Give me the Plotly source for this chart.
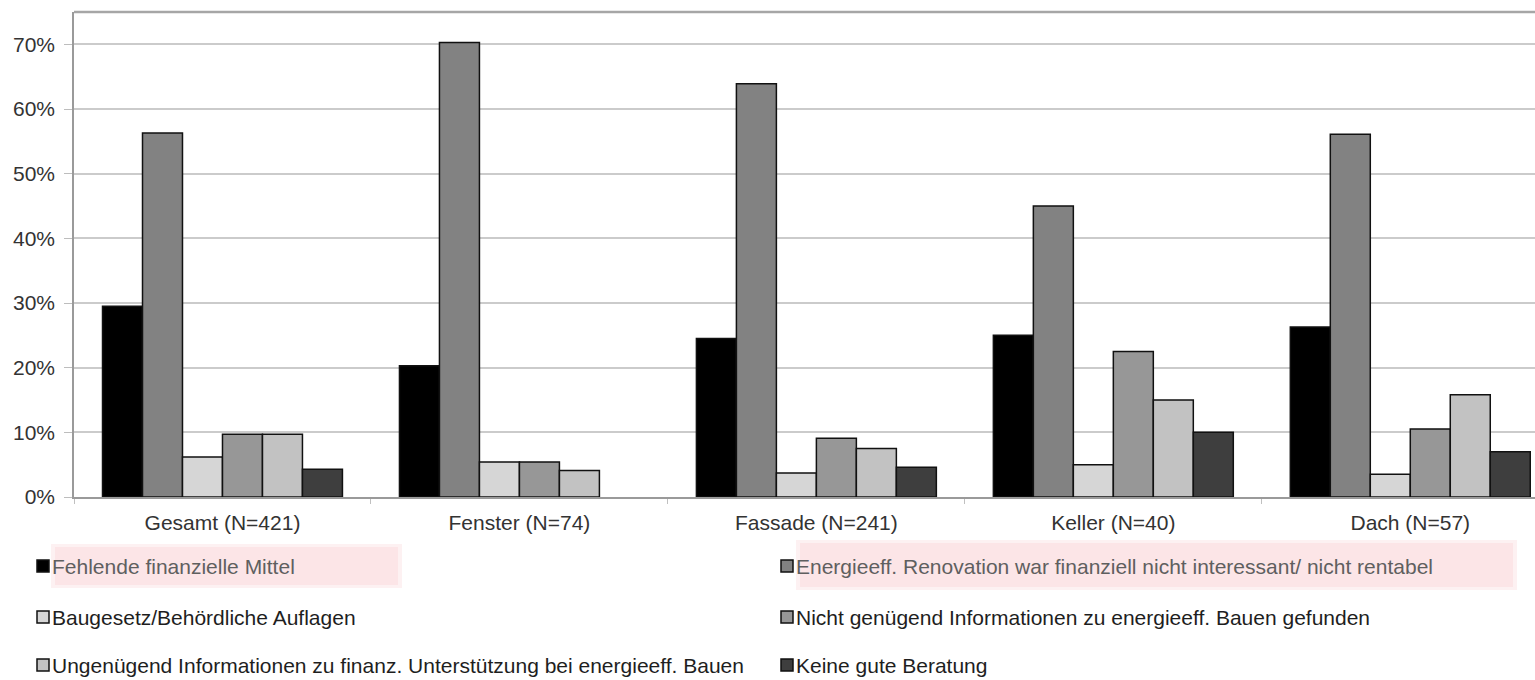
import plotly.graph_objects as go

# Categories (building part, sample size) and the reasons given, in percent
categories = ["Gesamt (N=421)", "Fenster (N=74)", "Fassade (N=241)", "Keller (N=40)", "Dach (N=57)"]

series_names = [
    "Fehlende finanzielle Mittel",
    "Energieeff. Renovation war finanziell nicht interessant/ nicht rentabel",
    "Baugesetz/Behördliche Auflagen",
    "Nicht genügend Informationen zu energieeff. Bauen gefunden",
    "Ungenügend Informationen zu finanz. Unterstützung bei energieeff. Bauen",
    "Keine gute Beratung",
]

fehlende_mittel = [29.5, 20.3, 24.5, 25.0, 26.3]
nicht_rentabel = [56.3, 70.3, 63.9, 45.0, 56.1]
baugesetz = [6.2, 5.4, 3.7, 5.0, 3.5]
keine_infos_bauen = [9.7, 5.4, 9.1, 22.5, 10.5]
keine_infos_finanz = [9.7, 4.1, 7.5, 15.0, 15.8]
keine_beratung = [4.3, 0.0, 4.6, 10.0, 7.0]

y_ticks = [0, 10, 20, 30, 40, 50, 60, 70]

series_values = [fehlende_mittel, nicht_rentabel, baugesetz,
                 keine_infos_bauen, keine_infos_finanz, keine_beratung]
fill_colors = ["#000000", "#828282", "#d6d6d6", "#979797", "#c2c2c2", "#3e3e3e"]

W, H = 1535, 680
M_L, M_R, M_T, M_B = 74, 0, 12, 183
PLOT_W = W - M_L - M_R
PLOT_H = H - M_T - M_B


def px_x(px):
    return (px - M_L) / PLOT_W


def px_y(py):
    return (H - M_B - py) / PLOT_H


FONT = "Liberation Sans, Arial, sans-serif"

fig = go.Figure()
for name, vals, col in zip(series_names, series_values, fill_colors):
    fig.add_trace(go.Bar(
        x=categories, y=vals, name=name,
        # empty bars get no outline so nothing is drawn on the baseline
        marker=dict(color=col,
                    line=dict(color="#111111", width=[0 if v == 0 else 1.5 for v in vals])),
        showlegend=False,
        hovertemplate="%{x}<br>%{y:.1f}%<extra>" + name + "</extra>",
    ))

shapes = []
annotations = []

# top frame line of the plot area
shapes.append(dict(type="line", xref="paper", yref="paper", x0=0, x1=1, y0=1, y1=1,
                   line=dict(color="#a6a6a6", width=2.5)))

# highlight bands behind two legend entries
for x0, x1, y0, y1 in [(55, 398, 547, 585), (800, 1513, 543, 587)]:
    shapes.append(dict(type="rect", xref="paper", yref="paper",
                       x0=px_x(x0 - 4), x1=px_x(x1 + 4), y0=px_y(y1 + 3), y1=px_y(y0 - 3),
                       fillcolor="#fdf1f2", line=dict(width=0), layer="below"))
    shapes.append(dict(type="rect", xref="paper", yref="paper",
                       x0=px_x(x0), x1=px_x(x1), y0=px_y(y1), y1=px_y(y0),
                       fillcolor="#fce5e7", line=dict(width=0), layer="below"))

# legend drawn as two columns, three rows
col_marker_x = [37, 781]
col_text_x = [51, 795]
row_y = [566, 617, 665]
highlighted = {0, 1}
for i, (name, col) in enumerate(zip(series_names, fill_colors)):
    r, c = divmod(i, 2)
    mx, cy = col_marker_x[c], row_y[r]
    shapes.append(dict(type="rect", xref="paper", yref="paper",
                       x0=px_x(mx), x1=px_x(mx + 12), y0=px_y(cy + 6), y1=px_y(cy - 6),
                       fillcolor=col, line=dict(color="#111111", width=1.5)))
    annotations.append(dict(xref="paper", yref="paper", x=px_x(col_text_x[c]), y=px_y(cy),
                            xanchor="left", yanchor="middle", showarrow=False, text=name,
                            borderpad=0,
                            font=dict(family=FONT, size=21,
                                      color="#5f5f5f" if i in highlighted else "#1e1e1e")))

fig.update_layout(
    width=W, height=H,
    margin=dict(l=M_L, r=M_R, t=M_T, b=M_B, pad=0),
    paper_bgcolor="white", plot_bgcolor="white",
    barmode="group", bargap=0.192, bargroupgap=0,
    font=dict(family=FONT, size=21, color="#333333"),
    shapes=shapes, annotations=annotations,
    xaxis=dict(type="category", range=[-0.5, 4.42], showline=True, linecolor="#9a9a9a",
               linewidth=1.5, ticks="outside", tickson="boundaries", ticklen=5,
               tickcolor="#c0c0c0", showgrid=False, ticklabelstandoff=6,
               tickfont=dict(family=FONT, size=21, color="#333333")),
    yaxis=dict(range=[0, 75], tickvals=y_ticks, ticktext=[f"{v}%" for v in y_ticks],
               showline=True, linecolor="#9a9a9a", linewidth=1.5,
               ticks="outside", ticklen=8, tickcolor="#bdbdbd",
               showgrid=True, gridcolor="#cbcbcb", gridwidth=1.5, zeroline=False,
               ticklabelstandoff=5,
               tickfont=dict(family=FONT, size=21, color="#333333")),
)

fig.write_html("out.html")
